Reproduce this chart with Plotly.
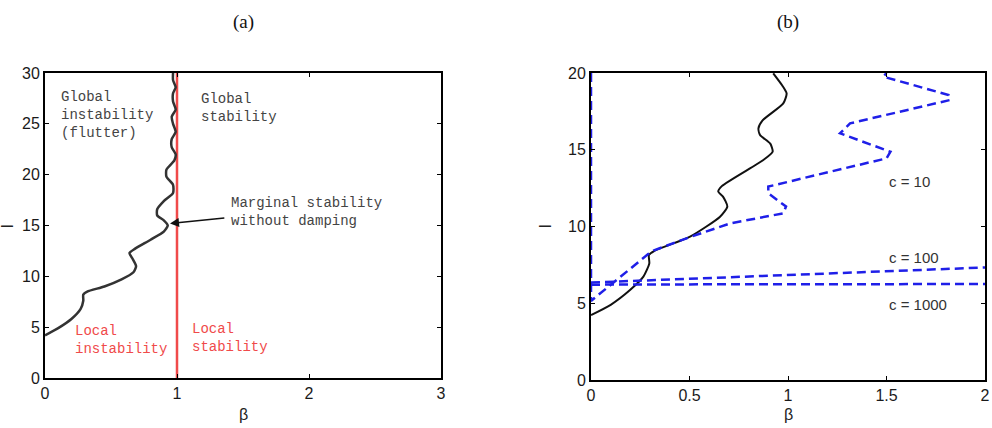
import plotly.graph_objects as go

W, H = 992, 428

# ---------- data (a) ----------
a_beta = [0, 0.1, 0.2, 0.27, 0.29, 0.29, 0.32, 0.45, 0.58, 0.67, 0.69, 0.66, 0.64, 0.68, 0.8, 0.9, 0.93,
          0.9, 0.85, 0.85, 0.9, 0.97, 0.97, 0.92, 0.92, 0.98, 0.99, 0.96, 0.96, 0.99, 0.97, 0.96, 0.99,
          0.97, 0.97, 0.99, 0.97, 0.97]
a_l = [4.2, 4.9, 5.8, 6.8, 7.6, 8.2, 8.5, 9.0, 9.7, 10.4, 11.0, 11.8, 12.3, 12.7, 13.6, 14.4, 15.0,
       15.5, 16.0, 16.6, 17.4, 18.2, 19.0, 19.8, 20.5, 21.4, 22.0, 22.7, 23.5, 24.2, 25.0, 25.7, 26.4,
       27.2, 28.0, 28.6, 29.3, 30.0]
red_beta = [1, 1]
red_l = [0, 30]

# ---------- data (b) ----------
b_beta = [0, 0.1, 0.198, 0.266, 0.296, 0.294, 0.32, 0.503, 0.655, 0.692, 0.67, 0.646, 0.664, 0.875, 0.922,
          0.91, 0.858, 0.85, 0.87, 0.976, 0.993, 0.97, 0.925]
b_l = [4.23, 4.9, 5.86, 6.73, 7.6, 8.14, 8.4, 9.34, 10.64, 11.3, 11.95, 12.27, 12.63, 14.33, 14.87,
       15.4, 15.96, 16.4, 16.9, 18.02, 18.67, 19.2, 19.98]
c10_beta = [0, 0, 0.29, 0.32, 0.5, 0.706, 0.976, 0.99, 0.9, 0.9, 1.146, 1.5, 1.52, 1.264, 1.315, 1.822,
            1.815, 1.484, 1.5]
c10_l = [20, 5.15, 8.2, 8.45, 9.3, 10.2, 10.86, 11.3, 12.16, 12.6, 13.36, 14.44, 14.87, 16.07, 16.72,
         18.24, 18.57, 19.76, 20]
c100_beta = [0, 0.1, 0.5, 1.0, 1.5, 2.0]
c100_l = [6.35, 6.4, 6.6, 6.85, 7.1, 7.33]
c1000_beta = [0, 0.1, 1.0, 2.0]
c1000_l = [6.2, 6.22, 6.24, 6.25]

a_xticks = [0, 1, 2, 3]
a_yticks = [0, 5, 10, 15, 20, 25, 30]
b_xticks = [0, 0.5, 1, 1.5, 2]
b_yticks = [0, 5, 10, 15, 20]

MONO = "Liberation Mono, Courier New, monospace"
SANS = "Liberation Sans, Arial, sans-serif"
SERIF = "Liberation Serif, DejaVu Serif, serif"

fig = go.Figure()
fig.add_trace(go.Scatter(x=red_beta, y=red_l, mode="lines", line=dict(color="#f04a4a", width=2.5),
                         xaxis="x", yaxis="y", showlegend=False))
fig.add_trace(go.Scatter(x=a_beta, y=a_l, mode="lines", line=dict(color="#333333", width=2.5, shape="spline", smoothing=0.6),
                         xaxis="x", yaxis="y", showlegend=False))

fig.add_trace(go.Scatter(x=b_beta, y=b_l, mode="lines", line=dict(color="#111111", width=2, shape="spline", smoothing=0.6),
                         xaxis="x2", yaxis="y2", showlegend=False))
for xs, ys in [(c10_beta, c10_l), (c100_beta, c100_l), (c1000_beta, c1000_l)]:
    fig.add_trace(go.Scatter(x=xs, y=ys, mode="lines", line=dict(color="#1f1fe8", width=2.5, dash="9px,5px"),
                             xaxis="x2", yaxis="y2", showlegend=False))

def px2x(p): return p / W
def py2y(p): return 1 - p / H

axis_common = dict(showline=True, linecolor="black", linewidth=2, mirror="ticks", ticks="inside",
                   ticklen=4, tickwidth=1, tickcolor="black", showgrid=False, zeroline=False,
                   automargin=False,
                   tickfont=dict(family=SANS, size=16, color="#1a1a1a"), fixedrange=True)

fig.update_layout(
    template="none",
    width=W, height=H, margin=dict(l=0, r=0, t=0, b=0, pad=0),
    paper_bgcolor="white", plot_bgcolor="white",
    xaxis=dict(domain=[px2x(45), px2x(441)], range=[0, 3], tickvals=a_xticks, anchor="y", **axis_common),
    yaxis=dict(domain=[py2y(378), py2y(73)], range=[0, 30], tickvals=a_yticks, anchor="x", **axis_common),
    xaxis2=dict(domain=[px2x(591), px2x(985)], range=[0, 2], tickvals=b_xticks, ticktext=["0", "0.5", "1", "1.5", "2"], anchor="y2", **axis_common),
    yaxis2=dict(domain=[py2y(380), py2y(73)], range=[0, 20], tickvals=b_yticks, anchor="x2", **axis_common),
)

ann = []
def txt(x, y, s, color="#444", xref="x", yref="y", size=14, family=MONO, xanchor="left", yanchor="middle"):
    ann.append(dict(x=x, y=y, xref=xref, yref=yref, text=s, showarrow=False, xanchor=xanchor, align="left",
                    yanchor=yanchor, font=dict(family=family, size=size, color=color)))

# panel (a) labels
txt(0.107, 25.85, "Global<br>instability<br>(flutter)")
txt(1.167, 26.6, "Global<br>stability")
txt(1.394, 16.37, "Marginal stability<br>without damping")
txt(0.21, 3.78, "Local<br>instability", color="#f04a4a")
txt(1.10, 3.95, "Local<br>stability", color="#f04a4a")

ann.append(dict(x=0.947, y=15.2, ax=1.37, ay=15.75, xref="x", yref="y", axref="x", ayref="y",
                showarrow=True, arrowhead=2, arrowsize=1.2, arrowwidth=1.5, arrowcolor="#111", text=""))

# panel (b) labels
txt(1.503, 12.9, "c = 10", xref="x2", yref="y2", family=SANS, size=15, color="#333")
txt(1.503, 7.95, "c = 100", xref="x2", yref="y2", family=SANS, size=15, color="#333")
txt(1.503, 4.95, "c = 1000", xref="x2", yref="y2", family=SANS, size=15, color="#333")

# titles and axis labels
txt(px2x(243), py2y(22), "(a)", xref="paper", yref="paper", family=SERIF, size=19, color="#111", xanchor="center")
txt(px2x(788), py2y(22), "(b)", xref="paper", yref="paper", family=SERIF, size=19, color="#111", xanchor="center")
txt(px2x(243), py2y(414), "β", xref="paper", yref="paper", family=SANS, size=16, color="#222", xanchor="center")
txt(px2x(788), py2y(414), "β", xref="paper", yref="paper", family=SANS, size=16, color="#222", xanchor="center")
for xp in (7, 545):
    ann.append(dict(x=px2x(xp), y=py2y(226), xref="paper", yref="paper", text="l", textangle=-90,
                    showarrow=False, xanchor="center", yanchor="middle",
                    font=dict(family=SANS, size=16, color="#222")))

fig.update_layout(annotations=ann)
fig.write_html("out.html")
